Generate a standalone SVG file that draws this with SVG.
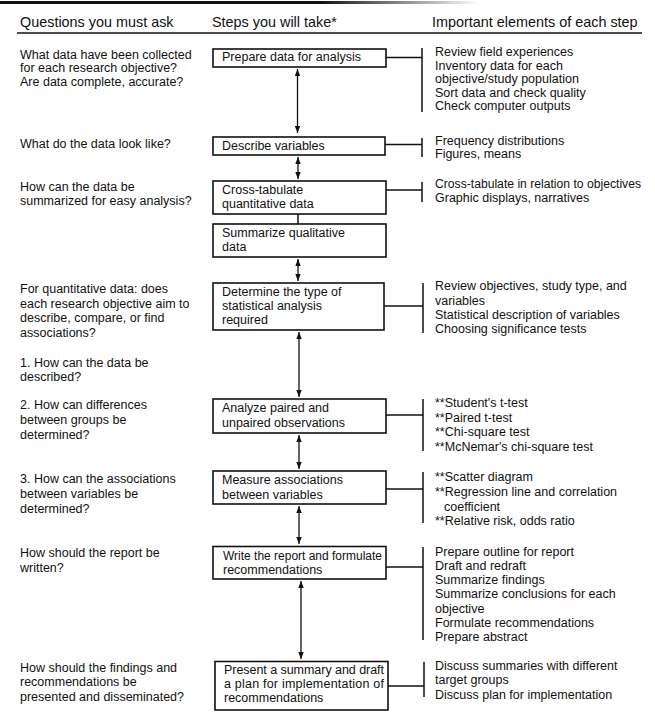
<svg xmlns="http://www.w3.org/2000/svg" width="655" height="723" viewBox="0 0 655 723">
<style>
text{font-family:"Liberation Sans",Arial,sans-serif;fill:#111;}
.h{font-size:14.4px;}
.t{font-size:12.5px;}
.box{fill:#fff;stroke:#111;stroke-width:1.6;}
.c{stroke:#111;stroke-width:1.5;fill:none;}
.ar{stroke:#111;stroke-width:1.3;fill:none;marker-start:url(#ah);marker-end:url(#ah);}
</style>
<defs>
<marker id="ah" markerUnits="userSpaceOnUse" markerWidth="8" markerHeight="6" refX="7" refY="3" orient="auto-start-reverse"><path d="M0,0.3 L7,3 L0,5.7 z" fill="#111"/></marker>
<linearGradient id="topg" gradientUnits="userSpaceOnUse" x1="320" y1="0" x2="480" y2="0"><stop offset="0" stop-color="#111"/><stop offset="1" stop-color="#fff"/></linearGradient>
</defs>
<rect width="655" height="723" fill="#fff"/>
<g id="top-rule">
<rect x="0" y="1" width="320" height="3" fill="#111"/>
<rect x="320" y="1" width="160" height="3" fill="url(#topg)"/>
</g>
<g id="header">
<text class="h" x="20" y="27">Questions you must ask</text>
<text class="h" x="212" y="27">Steps you will take*</text>
<text class="h" x="432" y="27">Important elements of each step</text>
<line x1="17" y1="33" x2="642" y2="33" stroke="#111" stroke-width="1.3"/>
</g>
<g id="questions">
<text class="t" x="20" y="58.5">What data have been collected</text>
<text class="t" x="20" y="72">for each research objective?</text>
<text class="t" x="20" y="85.5">Are data complete, accurate?</text>
<text class="t" x="20" y="147.5">What do the data look like?</text>
<text class="t" x="20" y="190.5">How can the data be</text>
<text class="t" x="20" y="205">summarized for easy analysis?</text>
<text class="t" x="20" y="293">For quantitative data: does</text>
<text class="t" x="20" y="307.5">each research objective aim to</text>
<text class="t" x="20" y="322">describe, compare, or find</text>
<text class="t" x="20" y="336.5">associations?</text>
<text class="t" x="20" y="366.5">1. How can the data be</text>
<text class="t" x="20" y="381">described?</text>
<text class="t" x="20" y="409">2. How can differences</text>
<text class="t" x="20" y="424">between groups be</text>
<text class="t" x="20" y="439">determined?</text>
<text class="t" x="20" y="483">3. How can the associations</text>
<text class="t" x="20" y="498">between variables be</text>
<text class="t" x="20" y="513">determined?</text>
<text class="t" x="20" y="557">How should the report be</text>
<text class="t" x="20" y="571.5">written?</text>
<text class="t" x="20" y="671.5">How should the findings and</text>
<text class="t" x="20" y="686">recommendations be</text>
<text class="t" x="20" y="700.5">presented and disseminated?</text>
</g>
<g id="connectors">
<line class="ar" x1="297.5" y1="69" x2="297.5" y2="133"/>
<line class="ar" x1="298" y1="157" x2="298" y2="179"/>
<line class="c" x1="298" y1="214" x2="298" y2="224"/>
<line class="ar" x1="298" y1="259" x2="298" y2="281"/>
<line class="ar" x1="299" y1="332" x2="299" y2="397"/>
<line class="ar" x1="299" y1="435" x2="299" y2="469"/>
<line class="ar" x1="299" y1="506" x2="299" y2="544"/>
<line class="ar" x1="301" y1="581" x2="301" y2="659"/>
<line class="c" x1="386" y1="57.5" x2="422" y2="57.5"/>
<line class="c" x1="422" y1="48" x2="422" y2="112"/>
<line class="c" x1="385" y1="144.5" x2="422" y2="144.5"/>
<line class="c" x1="422" y1="138" x2="422" y2="157"/>
<line class="c" x1="386" y1="190" x2="422" y2="190"/>
<line class="c" x1="422" y1="182" x2="422" y2="202"/>
<line class="c" x1="384" y1="306" x2="423" y2="306"/>
<line class="c" x1="423" y1="283" x2="423" y2="333"/>
<line class="c" x1="386" y1="415" x2="423" y2="415"/>
<line class="c" x1="423" y1="399" x2="423" y2="451"/>
<line class="c" x1="386" y1="489" x2="423" y2="489"/>
<line class="c" x1="423" y1="472" x2="423" y2="523"/>
<line class="c" x1="386" y1="567" x2="423" y2="567"/>
<line class="c" x1="423" y1="547" x2="423" y2="640"/>
<line class="c" x1="388" y1="686" x2="424" y2="686"/>
<line class="c" x1="424" y1="662" x2="424" y2="697"/>
</g>
<g id="step1"><rect class="box" x="213" y="49" width="173" height="18"/><text class="t" x="222" y="61">Prepare data for analysis</text></g>
<g id="step2"><rect class="box" x="213" y="137" width="172" height="18"/><text class="t" x="222" y="150">Describe variables</text></g>
<g id="step3"><rect class="box" x="213" y="181" width="173" height="33"/><text class="t" x="222" y="194">Cross-tabulate</text><text class="t" x="222" y="207.5">quantitative data</text></g>
<g id="step4"><rect class="box" x="213" y="224" width="173" height="33"/><text class="t" x="222" y="237">Summarize qualitative</text><text class="t" x="222" y="250.5">data</text></g>
<g id="step5"><rect class="box" x="213" y="283" width="171" height="47"/><text class="t" x="222" y="296">Determine the type of</text><text class="t" x="222" y="310">statistical analysis</text><text class="t" x="222" y="324">required</text></g>
<g id="step6"><rect class="box" x="213" y="399" width="173" height="34"/><text class="t" x="222" y="411.5">Analyze paired and</text><text class="t" x="222" y="426.5">unpaired observations</text></g>
<g id="step7"><rect class="box" x="213" y="471" width="173" height="33"/><text class="t" x="222" y="484">Measure associations</text><text class="t" x="222" y="498.5">between variables</text></g>
<g id="step8"><rect class="box" x="213" y="546.5" width="173" height="32.5"/><text class="t" x="223" y="560" textLength="159" lengthAdjust="spacingAndGlyphs">Write the report and formulate</text><text class="t" x="223" y="574">recommendations</text></g>
<g id="step9"><rect class="box" x="215" y="661.5" width="173" height="48.5"/><text class="t" x="224" y="674" textLength="160" lengthAdjust="spacing">Present a summary and draft</text><text class="t" x="224" y="688" textLength="160" lengthAdjust="spacing">a plan for implementation of</text><text class="t" x="224" y="702">recommendations</text></g>
<g id="elements">
<text class="t" x="435" y="56">Review field experiences</text>
<text class="t" x="435" y="69.5">Inventory data for each</text>
<text class="t" x="435" y="83">objective/study population</text>
<text class="t" x="435" y="96.5">Sort data and check quality</text>
<text class="t" x="435" y="110">Check computer outputs</text>
<text class="t" x="435" y="145">Frequency distributions</text>
<text class="t" x="435" y="158">Figures, means</text>
<text class="t" x="435" y="188" textLength="206" lengthAdjust="spacingAndGlyphs">Cross-tabulate in relation to objectives</text>
<text class="t" x="435" y="201.5">Graphic displays, narratives</text>
<text class="t" x="435" y="290">Review objectives, study type, and</text>
<text class="t" x="435" y="304.5">variables</text>
<text class="t" x="435" y="319">Statistical description of variables</text>
<text class="t" x="435" y="333">Choosing significance tests</text>
<text class="t" x="435" y="407">**Student's t-test</text>
<text class="t" x="435" y="421.5">**Paired t-test</text>
<text class="t" x="435" y="436">**Chi-square test</text>
<text class="t" x="435" y="450.5">**McNemar's chi-square test</text>
<text class="t" x="435" y="481">**Scatter diagram</text>
<text class="t" x="435" y="496">**Regression line and correlation</text>
<text class="t" x="444" y="510.5">coefficient</text>
<text class="t" x="435" y="525">**Relative risk, odds ratio</text>
<text class="t" x="435" y="555.5">Prepare outline for report</text>
<text class="t" x="435" y="570">Draft and redraft</text>
<text class="t" x="435" y="584">Summarize findings</text>
<text class="t" x="435" y="598">Summarize conclusions for each</text>
<text class="t" x="435" y="613">objective</text>
<text class="t" x="435" y="627">Formulate recommendations</text>
<text class="t" x="435" y="641">Prepare abstract</text>
<text class="t" x="435" y="670">Discuss summaries with different</text>
<text class="t" x="435" y="684">target groups</text>
<text class="t" x="435" y="698.5">Discuss plan for implementation</text>
</g>
</svg>
